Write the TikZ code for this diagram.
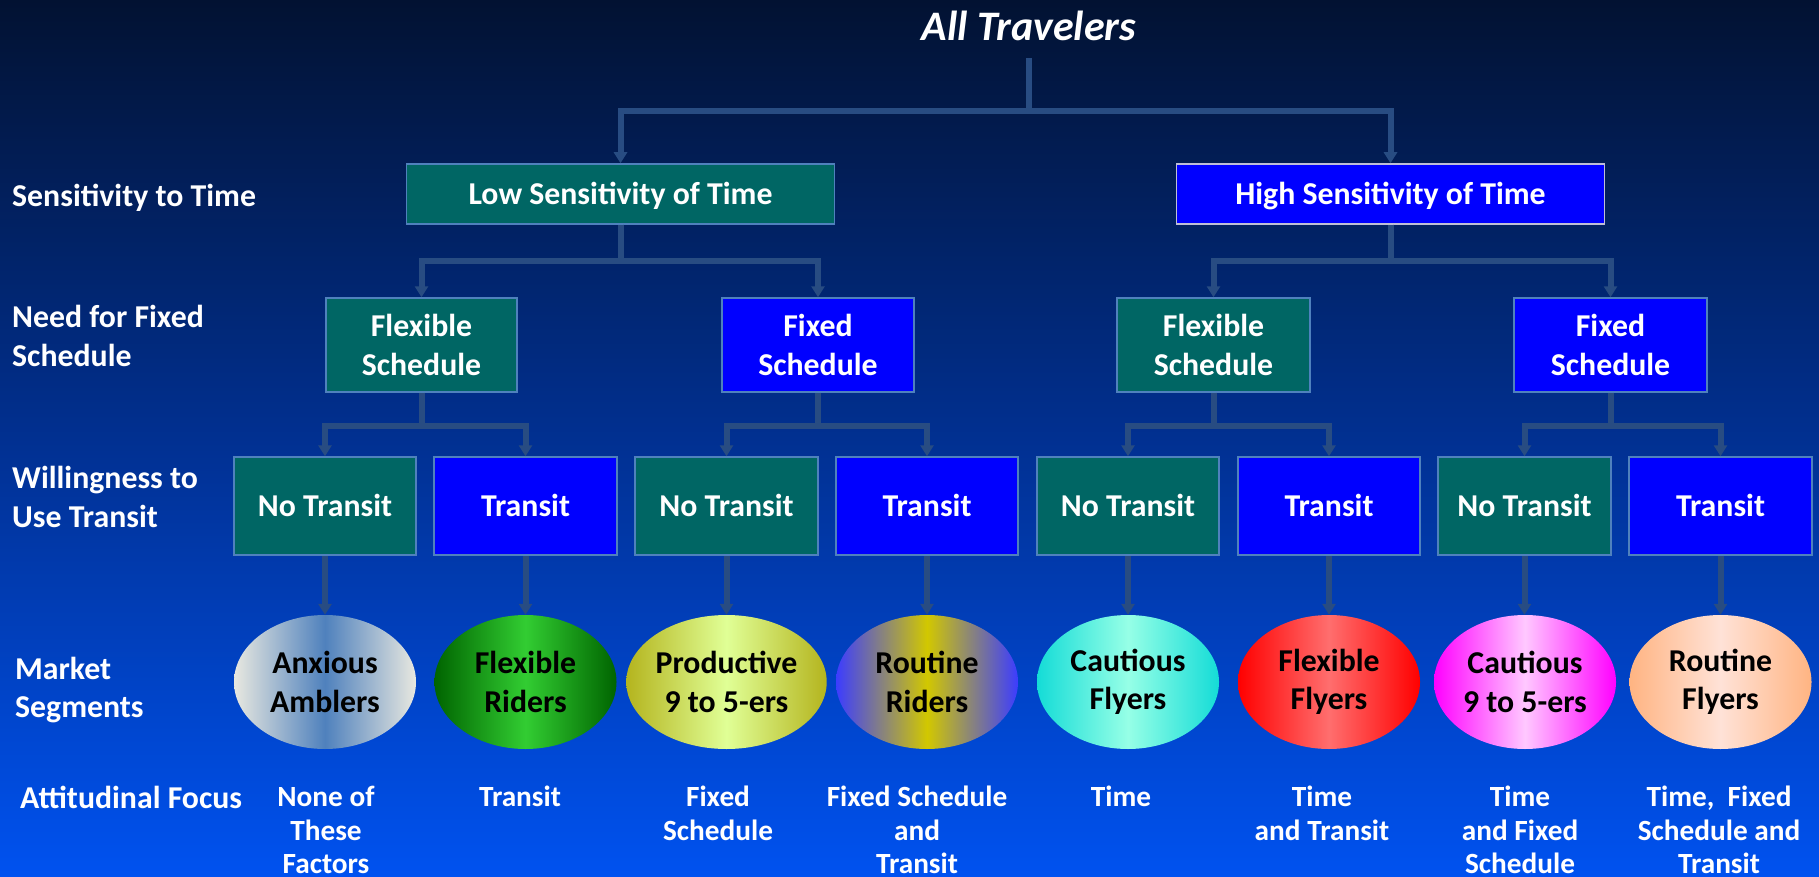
\documentclass[tikz,border=0pt]{standalone}
\usepackage{fontspec}
\setmainfont{Carlito}
\usetikzlibrary{arrows.meta,shapes.geometric}

\definecolor{bgtop}{RGB}{2,18,50}
\definecolor{bgmid}{RGB}{1,48,145}
\definecolor{bgbot}{RGB}{0,82,240}
\definecolor{tealbox}{RGB}{0,102,100}
\definecolor{bluebox}{RGB}{0,0,255}
\definecolor{boxrim}{RGB}{79,129,189}
\definecolor{hirim}{RGB}{190,190,215}
\definecolor{linkc}{RGB}{40,76,130}

\tikzset{
  txt/.style={font=\bfseries\fontsize{31.8}{38.5}\selectfont},
  lvl/.style={txt, text=white, anchor=west, align=left, inner sep=0pt},
  focus/.style={font=\bfseries\fontsize{29.3}{33.5}\selectfont, text=white, anchor=north, align=center, inner sep=0pt},
  choice/.style={rectangle, txt, text=white, draw=boxrim, line width=1.5pt, align=center, inner sep=0pt},
  oneline/.style={text height=20.5pt, text depth=0pt},
  tealnode/.style={choice, fill=tealbox},
  bluenode/.style={choice, fill=bluebox},
  seg/.style={ellipse, txt, text=black, align=center, inner sep=0pt,
              minimum width=182pt, minimum height=134pt},
  link/.style={draw=linkc, line width=6pt},
  arr/.style={link, -{Triangle[width=13pt,length=11pt]}}
}

\begin{document}
\begin{tikzpicture}[x=1pt, y=-1pt]
  % backdrop
  \shade[top color=bgtop, bottom color=bgbot, middle color=bgmid] (0,0) rectangle (1819,877);
  \useasboundingbox (0,0) rectangle (1819,877);

  % title
  \node[font=\bfseries\itshape\fontsize{42}{50}\selectfont, text=white, text height=29pt, text depth=0pt] (title) at (1029,26) {All Travelers};
  \coordinate (tfoot) at (1029,58);
  \coordinate (j0) at (1029,111);

  % level labels
  \node[lvl, oneline] (lab1) at (12,196) {Sensitivity to Time};
  \node[lvl] (lab2) at (12,336) {Need for Fixed\\Schedule};
  \node[lvl] (lab3) at (12,497) {Willingness to\\Use Transit};
  \node[lvl] (lab4) at (15,690) {Market\\Segments};
  \node[lvl, oneline] (lab5) at (20,798) {Attitudinal Focus};

  % sensitivity to time
  \node[tealnode, oneline, minimum width=428pt, minimum height=60pt] (low) at (620.5,194) {Low Sensitivity of Time};
  \node[bluenode, oneline, draw=hirim, minimum width=428pt, minimum height=60pt] (high) at (1390.5,194) {High Sensitivity of Time};

  % fixed schedule
  \node[tealnode, minimum width=191pt, minimum height=94pt] (flexL) at (421.5,345) {Flexible\\Schedule};
  \node[bluenode, minimum width=192pt, minimum height=94pt] (fixL) at (818,345) {Fixed\\Schedule};
  \node[tealnode, minimum width=193pt, minimum height=94pt] (flexH) at (1213.5,345) {Flexible\\Schedule};
  \node[bluenode, minimum width=193pt, minimum height=94pt] (fixH) at (1610.5,345) {Fixed\\Schedule};

  % transit
  \node[tealnode, oneline, minimum width=182pt, minimum height=98pt] (nt1) at (325,506) {No Transit};
  \node[bluenode, oneline, minimum width=183pt, minimum height=98pt] (t1) at (525.5,506) {Transit};
  \node[tealnode, oneline, minimum width=183pt, minimum height=98pt] (nt2) at (726.5,506) {No Transit};
  \node[bluenode, oneline, minimum width=182pt, minimum height=98pt] (t2) at (927,506) {Transit};
  \node[tealnode, oneline, minimum width=182pt, minimum height=98pt] (nt3) at (1128,506) {No Transit};
  \node[bluenode, oneline, minimum width=182pt, minimum height=98pt] (t3) at (1329,506) {Transit};
  \node[tealnode, oneline, minimum width=173pt, minimum height=98pt] (nt4) at (1524.5,506) {No Transit};
  \node[bluenode, oneline, minimum width=183pt, minimum height=98pt] (t4) at (1720.5,506) {Transit};

  % market segments (middle colour last, so the outer colours do not overwrite it)
  \node[seg, left color={rgb,255:red,232;green,232;blue,224}, right color={rgb,255:red,232;green,232;blue,224}, middle color={rgb,255:red,79;green,129;blue,189}] (e1) at (325,682) {Anxious\\Amblers};
  \node[seg, left color={rgb,255:red,0;green,100;blue,0}, right color={rgb,255:red,0;green,100;blue,0}, middle color={rgb,255:red,50;green,205;blue,50}] (e2) at (525.5,682) {Flexible\\Riders};
  \node[seg, left color={rgb,255:red,180;green,180;blue,30}, right color={rgb,255:red,180;green,180;blue,30}, middle color={rgb,255:red,224;green,255;blue,150}] (e3) at (726.5,682) {Productive\\9 to 5-ers};
  \node[seg, left color={rgb,255:red,60;green,60;blue,255}, right color={rgb,255:red,60;green,60;blue,255}, middle color={rgb,255:red,210;green,200;blue,0}] (e4) at (927,682) {Routine\\Riders};
  \node[seg, left color={rgb,255:red,20;green,220;blue,215}, right color={rgb,255:red,20;green,220;blue,215}, middle color={rgb,255:red,150;green,255;blue,230}] (e5) at (1128,682) {Cautious\\Flyers};
  \node[seg, left color={rgb,255:red,255;green,0;blue,0}, right color={rgb,255:red,255;green,0;blue,0}, middle color={rgb,255:red,255;green,110;blue,110}] (e6) at (1329,682) {Flexible\\Flyers};
  \node[seg, left color={rgb,255:red,255;green,0;blue,255}, right color={rgb,255:red,255;green,0;blue,255}, middle color={rgb,255:red,255;green,200;blue,255}] (e7) at (1525,682) {Cautious\\9 to 5-ers};
  \node[seg, left color={rgb,255:red,255;green,180;blue,130}, right color={rgb,255:red,255;green,180;blue,130}, middle color={rgb,255:red,255;green,226;blue,215}] (e8) at (1720.5,682) {Routine\\Flyers};

  % attitudinal focus
  \node[focus] (f1) at (326,786) {None of\\These\\Factors};
  \node[focus] (f2) at (520,786) {Transit};
  \node[focus] (f3) at (718,786) {Fixed\\Schedule};
  \node[focus] (f4) at (917,786) {Fixed Schedule\\and\\Transit};
  \node[focus] (f5) at (1121,786) {Time};
  \node[focus] (f6) at (1322,786) {Time\\and Transit};
  \node[focus] (f7) at (1520,786) {Time\\and Fixed\\Schedule};
  \node[focus] (f8) at (1719,786) {Time,~~Fixed\\Schedule and\\Transit};

  % connectors
  \draw[link] (tfoot) -- (j0);
  \draw[arr] (j0) -| (low.north);
  \draw[arr] (j0) -| (high.north);

  \draw[arr] (low.south) -- ++(0,36.5) -| (flexL.north);
  \draw[arr] (low.south) -- ++(0,36.5) -| (fixL.north);
  \draw[arr] (high.south) -- ++(0,36.5) -| (flexH.north);
  \draw[arr] (high.south) -- ++(0,36.5) -| (fixH.north);

  \draw[arr] (flexL.south) -- ++(0,33.5) -| (nt1.north);
  \draw[arr] (flexL.south) -- ++(0,33.5) -| (t1.north);
  \draw[arr] (fixL.south) -- ++(0,33.5) -| (nt2.north);
  \draw[arr] (fixL.south) -- ++(0,33.5) -| (t2.north);
  \draw[arr] (flexH.south) -- ++(0,33.5) -| (nt3.north);
  \draw[arr] (flexH.south) -- ++(0,33.5) -| (t3.north);
  \draw[arr] (fixH.south) -- ++(0,33.5) -| (nt4.north);
  \draw[arr] (fixH.south) -- ++(0,33.5) -| (t4.north);

  \foreach \b/\e in {nt1/e1, t1/e2, nt2/e3, t2/e4, nt3/e5, t3/e6, nt4/e7, t4/e8}
    \draw[arr] (\b.south) -- (\b.south |- \e.north);
\end{tikzpicture}
\end{document}
